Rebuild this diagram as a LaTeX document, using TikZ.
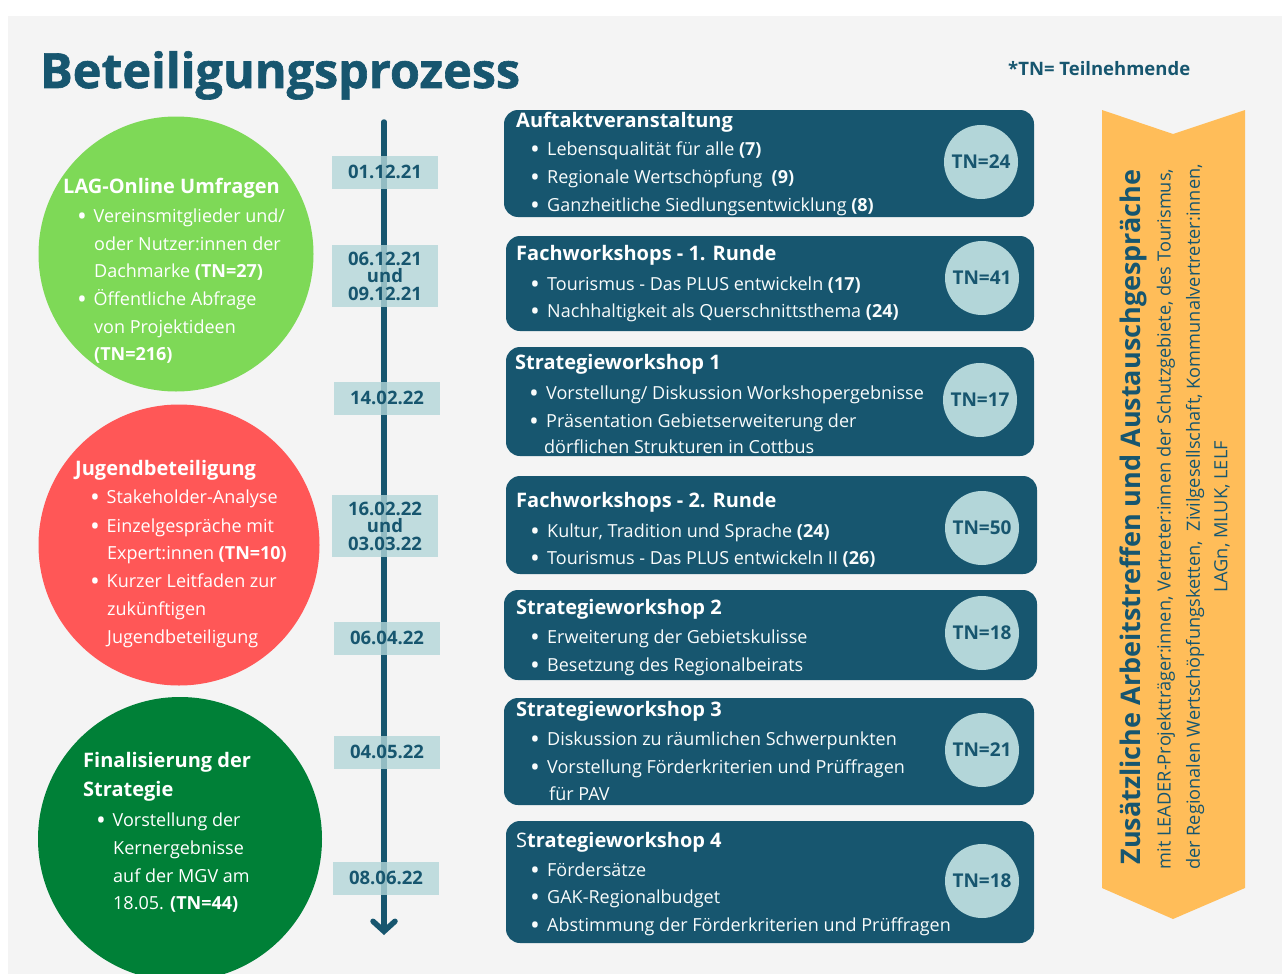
\documentclass[tikz,border=0pt]{standalone}
\usepackage{fontspec}
\setmainfont{Open Sans}
\usetikzlibrary{arrows.meta}
\definecolor{bggray}{HTML}{F4F4F4}
\definecolor{deepteal}{HTML}{17566F}
\definecolor{paleteal}{HTML}{B3D6D9}
\definecolor{laggreen}{HTML}{7ED957}
\definecolor{jugred}{HTML}{FF5757}
\definecolor{fingreen}{HTML}{008037}
\definecolor{bannerorange}{HTML}{FFBD59}
\newcommand{\bt}{\makebox[17pt][l]{\raisebox{-0.17em}{\scalebox{1.45}{•}}}}
\newcommand{\cbt}{\makebox[16.5pt][l]{\raisebox{-0.17em}{\scalebox{1.45}{•}}}}
\tikzset{
  stepbox/.style={fill=deepteal, rounded corners=14pt},
  bigdisc/.style={circle, inner sep=0pt},
  tncirc/.style={circle, fill=paleteal, minimum size=74pt, inner sep=0pt, text=deepteal, font=\fontsize{19}{19}\selectfont\bfseries},
  datebox/.style={fill=paleteal, fill opacity=0.8, text opacity=1, minimum width=106pt, minimum height=33pt, inner sep=0pt, text=deepteal, align=center, font=\fontsize{18.5}{17.5}\selectfont\bfseries},
  boxhead/.style={anchor=base west, inner sep=0pt, text=white, font=\fontsize{20}{22}\selectfont\bfseries},
  boxitem/.style={anchor=base west, inner sep=0pt, text=white!92!paleteal, font=\fontsize{18}{20}\selectfont},
  dischead/.style={anchor=base west, inner sep=0pt, text=white, font=\fontsize{20}{22}\selectfont\bfseries},
  discitem/.style={anchor=base west, inner sep=0pt, text=white, font=\fontsize{18}{20}\selectfont},
  bannertext/.style={rotate=90, inner sep=0pt, text=deepteal, font=\fontsize{18.2}{20}\selectfont}
}
\begin{document}
\begin{tikzpicture}[x=1pt, y=-1pt]
  %%%%% FRAME %%%%%
  \useasboundingbox (0,0) rectangle (1282,974);
  \clip (0,0) rectangle (1282,974);
  \fill[bggray] (8,16) rectangle (1282,974);

  \node[anchor=base west, inner sep=0pt, text=deepteal, font=\fontsize{48.5}{52}\selectfont\bfseries\addfontfeature{FakeBold=1.3}] (title) at (40,88) {Beteiligungsprozess};
  \node[anchor=base west, inner sep=0pt, text=deepteal, font=\fontsize{18.5}{20}\selectfont\bfseries] (legend) at (1008,76) {*TN= Teilnehmende};

  %%%%% LEFT DISCS %%%%%
  \node[bigdisc, fill=laggreen, minimum size=275pt] (lagdisc) at (176,254) {};
  \node[dischead] (lagh) at (63,193) {LAG-Online Umfragen};
  \node[discitem] (lag1) at (77,222) {\cbt Vereinsmitglieder und/};
  \node[discitem] (lag2) at (94,250) {oder Nutzer:innen der};
  \node[discitem] (lag3) at (94,277) {Dachmarke \textbf{(TN=27)}};
  \node[discitem] (lag4) at (77,305) {\cbt Öffentliche Abfrage};
  \node[discitem] (lag5) at (94,333) {von Projektideen};
  \node[discitem] (lag6) at (94,360) {\textbf{(TN=216)}};

  \node[bigdisc, fill=jugred, minimum size=281pt] (jugdisc) at (179,545) {};
  \node[dischead] (jugh) at (75,475) {Jugendbeteiligung};
  \node[discitem] (jug1) at (90,503) {\cbt Stakeholder-Analyse};
  \node[discitem] (jug2) at (90,532) {\cbt Einzelgespräche mit};
  \node[discitem] (jug3) at (107,559) {Expert:innen \textbf{(TN=10)}};
  \node[discitem] (jug4) at (90,587) {\cbt Kurzer Leitfaden zur};
  \node[discitem] (jug5) at (107,615) {zukünftigen};
  \node[discitem] (jug6) at (107,643) {Jugendbeteiligung};

  \node[bigdisc, fill=fingreen, minimum size=284pt] (findisc) at (180,839) {};
  \node[dischead] (finh) at (83,767) {Finalisierung der};
  \node[dischead] (finh2) at (83,796) {Strategie};
  \node[discitem] (fin1) at (96,826) {\cbt Vorstellung der};
  \node[discitem] (fin2) at (113,854) {Kernergebnisse};
  \node[discitem] (fin3) at (113,882) {auf der MGV am};
  \node[discitem] (fin4) at (113,909) {18.05. \textbf{(TN=44)}};

  %%%%% TIMELINE %%%%%
  \coordinate (tltop) at (384,122);
  \coordinate (tlbot) at (384,935);
  \draw[deepteal, line width=5.5pt, line cap=round, -{Straight Barb[length=10pt, width=22pt, line cap=round]}] (tltop) -- (tlbot);

  \node[datebox] (d1) at (385,172) {01.12.21};
  \node[datebox, minimum height=62pt] (d2) at (385,276) {06.12.21\\und\\09.12.21};
  \node[datebox] (d3) at (387,398) {14.02.22};
  \node[datebox, minimum height=62pt] (d4) at (385,526) {16.02.22\\und\\03.03.22};
  \node[datebox] (d5) at (387,638) {06.04.22};
  \node[datebox] (d6) at (387,752) {04.05.22};
  \node[datebox] (d7) at (386,878) {08.06.22};

  %%%%% EVENT BOXES %%%%%
  \fill[stepbox] (504,110) rectangle (1034,217);
  \node[boxhead] (e1h) at (516,127) {Auftaktveranstaltung};
  \node[boxitem] (e1a) at (530,155) {\bt Lebensqualität für alle \textbf{(7)}};
  \node[boxitem] (e1b) at (530,183) {\bt Regionale Wertschöpfung\ \ \textbf{(9)}};
  \node[boxitem] (e1c) at (530,211) {\bt Ganzheitliche Siedlungsentwicklung \textbf{(8)}};
  \node[tncirc] (tn1) at (981,162) {TN=24};

  \fill[stepbox] (506,236) rectangle (1034,331);
  \node[boxhead] (e2h) at (516,260) {Fachworkshops - 1. Runde};
  \node[boxitem] (e2a) at (530,290) {\bt Tourismus - Das PLUS entwickeln \textbf{(17)}};
  \node[boxitem] (e2b) at (530,317) {\bt Nachhaltigkeit als Querschnittsthema \textbf{(24)}};
  \node[tncirc] (tn2) at (982,278) {TN=41};

  \fill[stepbox] (506,347) rectangle (1034,456);
  \node[boxhead] (e3h) at (515,369) {Strategieworkshop 1};
  \node[boxitem] (e3a) at (529,399) {\bt Vorstellung/ Diskussion Workshopergebnisse};
  \node[boxitem] (e3b) at (529,427) {\bt Präsentation Gebietserweiterung der};
  \node[boxitem] (e3c) at (544,453) {dörflichen Strukturen in Cottbus};
  \node[tncirc] (tn3) at (980,400) {TN=17};

  \fill[stepbox] (506,476) rectangle (1037,574);
  \node[boxhead] (e4h) at (516,507) {Fachworkshops - 2. Runde};
  \node[boxitem] (e4a) at (530,537) {\bt Kultur, Tradition und Sprache \textbf{(24)}};
  \node[boxitem] (e4b) at (530,564) {\bt Tourismus - Das PLUS entwickeln II \textbf{(26)}};
  \node[tncirc] (tn4) at (982,528) {TN=50};

  \fill[stepbox] (504,590) rectangle (1037,680);
  \node[boxhead] (e5h) at (516,614) {Strategieworkshop 2};
  \node[boxitem] (e5a) at (530,643) {\bt Erweiterung der Gebietskulisse};
  \node[boxitem] (e5b) at (530,671) {\bt Besetzung des Regionalbeirats};
  \node[tncirc] (tn5) at (982,633) {TN=18};

  \fill[stepbox] (504,698) rectangle (1034,805);
  \node[boxhead] (e6h) at (516,716) {Strategieworkshop 3};
  \node[boxitem] (e6a) at (530,745) {\bt Diskussion zu räumlichen Schwerpunkten};
  \node[boxitem] (e6b) at (530,773) {\bt Vorstellung Förderkriterien und Prüffragen};
  \node[boxitem] (e6c) at (549,800) {für PAV};
  \node[tncirc] (tn6) at (982,750) {TN=21};

  \fill[stepbox] (506,821) rectangle (1034,943);
  \node[boxhead] (e7h) at (516,847) {\mdseries S\bfseries trategieworkshop 4};
  \node[boxitem] (e7a) at (530,876) {\bt Fördersätze};
  \node[boxitem] (e7b) at (530,903) {\bt GAK-Regionalbudget};
  \node[boxitem] (e7c) at (530,931) {\bt Abstimmung der Förderkriterien und Prüffragen};
  \node[tncirc] (tn7) at (982,881) {TN=18};

  %%%%% BANNER %%%%%
  \fill[bannerorange] (1102,110) -- (1173,134) -- (1245,110) -- (1245,888) -- (1173,919) -- (1102,888) -- cycle;
  \node[bannertext, font=\fontsize{27}{29}\selectfont\bfseries] (banh) at (1133,517) {Zusätzliche Arbeitstreffen und Austauschgespräche};
  \node[bannertext] (ban1) at (1166,519) {mit LEADER-Projektträger:innen, Vertreter:innen der Schutzgebiete, des Tourismus,};
  \node[bannertext] (ban2) at (1195,517) {der Regionalen Wertschöpfungsketten,\ \ Zivilgesellschaft, Kommunalvertreter:innen,};
  \node[bannertext] (ban3) at (1222,517) {LAGn, MLUK, LELF};
\end{tikzpicture}
\end{document}
